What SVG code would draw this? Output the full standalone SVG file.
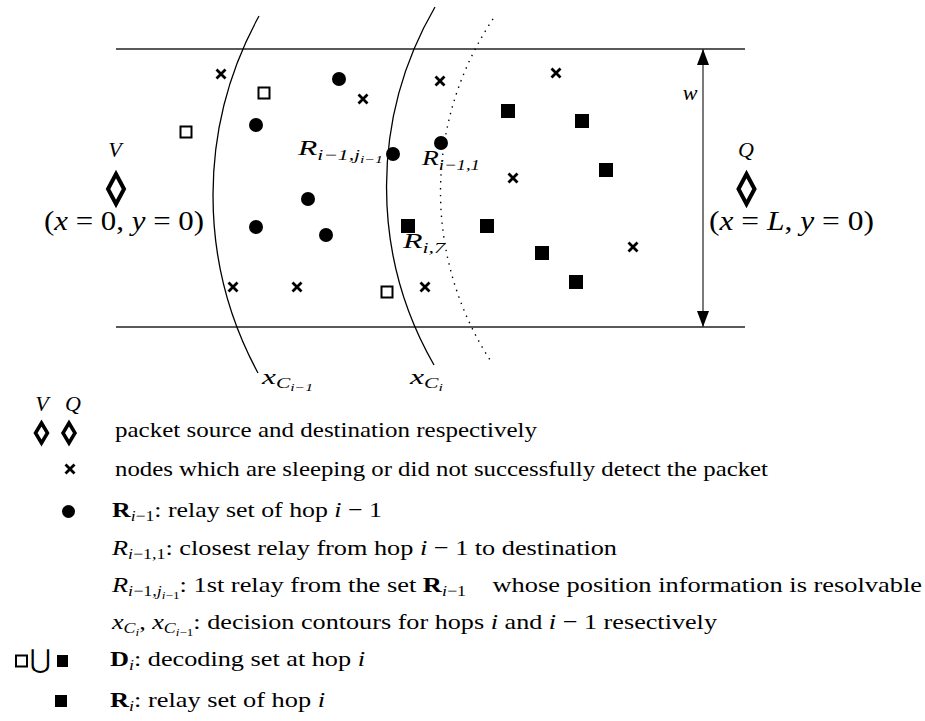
<svg xmlns="http://www.w3.org/2000/svg" width="925" height="721" viewBox="0 0 925 721">
<defs>
<style>
.t{font-family:"Liberation Serif","Times New Roman",serif;fill:#000}
.i{font-style:italic}
.b{font-weight:bold}
.xm{stroke:#000;stroke-width:2.8;fill:none}
.osq{fill:#fff;stroke:#000;stroke-width:2}
.fsq{fill:#000}
.dot{fill:#000}
.dia{fill:none;stroke:#000;stroke-width:4;stroke-linejoin:miter;stroke-miterlimit:10}
.ldia{fill:none;stroke:#000;stroke-width:3.5;stroke-linejoin:miter;stroke-miterlimit:10}
.ln{stroke:#222;stroke-width:1.3;fill:none}
.arc{stroke:#000;stroke-width:1.3;fill:none}
.dotted{stroke:#000;stroke-width:1.4;fill:none;stroke-dasharray:1.4 5.5}
</style>
<path id="xsym" d="M-4.5,-4.5 L4.5,4.5 M-4.5,4.5 L4.5,-4.5"/>
<marker id="ah" viewBox="0 0 16 12" refX="16" refY="6" markerWidth="16" markerHeight="12" markerUnits="userSpaceOnUse" orient="auto-start-reverse">
<path d="M0,0 L16,6 L0,12 z" fill="#000"/>
</marker>
</defs>

<g id="strip">
<line class="ln" x1="116" y1="49" x2="745" y2="49"/>
<line class="ln" x1="116" y1="327" x2="745" y2="327"/>
</g>

<g id="contours">
<path id="contour-prev" class="arc" d="M259,16 A373,373 0 0,0 258,373"/>
<path id="contour-cur" class="arc" d="M435,7 A358,358 0 0,0 434,365"/>
<path id="contour-dotted" class="dotted" d="M493,19 A310.5,310.5 0 0,0 492,363"/>
</g>

<g id="connectors">
<line x1="703" y1="49" x2="703" y2="327" stroke="#333" stroke-width="1.3" marker-start="url(#ah)" marker-end="url(#ah)"/>
</g>
<text class="t i" x="690" y="100" font-size="22" text-anchor="middle">w</text>

<g id="source-V">
<text class="t i" x="115" y="157" font-size="22" text-anchor="middle">V</text>
<polygon class="dia" points="116,174 124,189 116,204 108,189"/>
<text class="t" x="44" y="230" font-size="27" textLength="160" lengthAdjust="spacingAndGlyphs">(<tspan class="i">x</tspan> = 0, <tspan class="i">y</tspan> = 0)</text>
</g>

<g id="dest-Q">
<text class="t i" x="746" y="157" font-size="22" text-anchor="middle">Q</text>
<polygon class="dia" points="746.5,174 754.5,189 746.5,204 738.5,189"/>
<text class="t" x="709" y="230" font-size="27" textLength="165" lengthAdjust="spacingAndGlyphs">(<tspan class="i">x</tspan> = <tspan class="i">L</tspan>, <tspan class="i">y</tspan> = 0)</text>
</g>

<g id="sleeping">
<use href="#xsym" class="xm" x="221" y="74"/>
<use href="#xsym" class="xm" x="363" y="99"/>
<use href="#xsym" class="xm" x="440" y="81"/>
<use href="#xsym" class="xm" x="556" y="73"/>
<use href="#xsym" class="xm" x="513" y="178"/>
<use href="#xsym" class="xm" x="233" y="287"/>
<use href="#xsym" class="xm" x="297" y="287"/>
<use href="#xsym" class="xm" x="425" y="287"/>
<use href="#xsym" class="xm" x="633" y="247"/>
</g>

<g id="decoding-only">
<rect class="osq" x="258.5" y="87.5" width="11" height="11"/>
<rect class="osq" x="180.5" y="126.5" width="11" height="11"/>
<rect class="osq" x="381.5" y="286.5" width="11" height="11"/>
</g>

<g id="relay-prev">
<circle class="dot" cx="339" cy="79" r="7"/>
<circle class="dot" cx="256" cy="125" r="7"/>
<circle class="dot" cx="308" cy="199" r="7"/>
<circle class="dot" cx="256" cy="227" r="7"/>
<circle class="dot" cx="326" cy="235" r="7"/>
</g>

<g id="R-prev-j">
<circle class="dot" cx="393" cy="154" r="7"/>
<text class="t i" x="298" y="155" font-size="22" textLength="85" lengthAdjust="spacingAndGlyphs">R<tspan font-size="15" dy="5">i−1,j</tspan><tspan font-size="11" dy="3">i−1</tspan></text>
</g>

<g id="R-prev-1">
<circle class="dot" cx="441" cy="143" r="7"/>
<text class="t i" x="422" y="165" font-size="22" textLength="58" lengthAdjust="spacingAndGlyphs">R<tspan font-size="15" dy="5">i−1,1</tspan></text>
</g>

<g id="R-i-7">
<rect class="fsq" x="401" y="219" width="14" height="14"/>
<text class="t i" x="403" y="248" font-size="22" textLength="42" lengthAdjust="spacingAndGlyphs">R<tspan font-size="15" dy="5">i,7</tspan></text>
</g>

<g id="relay-cur">
<rect class="fsq" x="501" y="104" width="14" height="14"/>
<rect class="fsq" x="575" y="114" width="14" height="14"/>
<rect class="fsq" x="599" y="163" width="14" height="14"/>
<rect class="fsq" x="480" y="219" width="14" height="14"/>
<rect class="fsq" x="535" y="246" width="14" height="14"/>
<rect class="fsq" x="569" y="275" width="14" height="14"/>
</g>

<g id="contour-labels">
<text class="t i" x="262" y="384" font-size="22" textLength="51" lengthAdjust="spacingAndGlyphs">x<tspan font-size="15" dy="4">C</tspan><tspan font-size="11" dy="3">i−1</tspan></text>
<text class="t i" x="410" y="384" font-size="22" textLength="33" lengthAdjust="spacingAndGlyphs">x<tspan font-size="15" dy="4">C</tspan><tspan font-size="11" dy="3">i</tspan></text>
</g>

<g id="legend">
<g id="leg-VQ">
<text class="t i" x="42" y="411" font-size="22" text-anchor="middle">V</text>
<text class="t i" x="73" y="411" font-size="22" text-anchor="middle">Q</text>
<polygon class="ldia" points="41.5,423 47.5,433 41.5,443 35.5,433"/>
<polygon class="ldia" points="69,423 75,433 69,443 63,433"/>
<text class="t" x="115" y="437" font-size="22" textLength="422" lengthAdjust="spacingAndGlyphs">packet source and destination respectively</text>
</g>
<g id="leg-sleep">
<use href="#xsym" class="xm" x="70" y="469"/>
<text class="t" x="115" y="476" font-size="22" textLength="653" lengthAdjust="spacingAndGlyphs">nodes which are sleeping or did not successfully detect the packet</text>
</g>
<g id="leg-relay-prev">
<circle class="dot" cx="68.5" cy="511.5" r="6.5"/>
<text class="t" x="112" y="517" font-size="22" textLength="270" lengthAdjust="spacingAndGlyphs"><tspan class="b">R</tspan><tspan font-size="15" class="i" dy="4">i</tspan><tspan font-size="15" dy="0">−1</tspan><tspan dy="-4">: relay set of hop </tspan><tspan class="i">i</tspan> − 1</text>
</g>
<g id="leg-closest">
<text class="t" x="112" y="555" font-size="22" textLength="505" lengthAdjust="spacingAndGlyphs"><tspan class="i">R</tspan><tspan font-size="15" dy="4"><tspan class="i">i</tspan>−1,1</tspan><tspan dy="-4">: closest relay from hop </tspan><tspan class="i">i</tspan> − 1 to destination</text>
</g>
<g id="leg-first">
<text class="t" x="112" y="592" font-size="22" textLength="810" lengthAdjust="spacingAndGlyphs"><tspan class="i">R</tspan><tspan font-size="15" dy="4"><tspan class="i">i</tspan>−1,<tspan class="i">j</tspan></tspan><tspan font-size="11" dy="3"><tspan class="i">i</tspan>−1</tspan><tspan dy="-7">: 1st relay from the set </tspan><tspan class="b">R</tspan><tspan font-size="15" dy="4"><tspan class="i">i</tspan>−1</tspan><tspan dy="-4" dx="22">whose position information is resolvable</tspan></text>
</g>
<g id="leg-contours">
<text class="t" x="112" y="629" font-size="22" textLength="605" lengthAdjust="spacingAndGlyphs"><tspan class="i">x</tspan><tspan font-size="15" class="i" dy="4">C</tspan><tspan font-size="11" class="i" dy="3">i</tspan><tspan dy="-7">, </tspan><tspan class="i">x</tspan><tspan font-size="15" class="i" dy="4">C</tspan><tspan font-size="11" dy="3"><tspan class="i">i</tspan>−1</tspan><tspan dy="-7">: decision contours for hops </tspan><tspan class="i">i</tspan> and <tspan class="i">i</tspan> − 1 resectively</text>
</g>
<g id="leg-decoding">
<rect class="osq" x="16" y="655.5" width="11" height="11"/>
<text x="40.5" y="668" font-family="DejaVu Sans, sans-serif" font-size="26" text-anchor="middle">⋃</text>
<rect class="fsq" x="57" y="655" width="11" height="12"/>
<text class="t" x="110" y="666" font-size="22" textLength="255" lengthAdjust="spacingAndGlyphs"><tspan class="b">D</tspan><tspan font-size="15" class="i" dy="4">i</tspan><tspan dy="-4">: decoding set at hop </tspan><tspan class="i">i</tspan></text>
</g>
<g id="leg-relay-cur">
<rect class="fsq" x="55" y="695" width="12" height="12"/>
<text class="t" x="110" y="707" font-size="22" textLength="215" lengthAdjust="spacingAndGlyphs"><tspan class="b">R</tspan><tspan font-size="15" class="i" dy="4">i</tspan><tspan dy="-4">: relay set of hop </tspan><tspan class="i">i</tspan></text>
</g>
</g>
</svg>
